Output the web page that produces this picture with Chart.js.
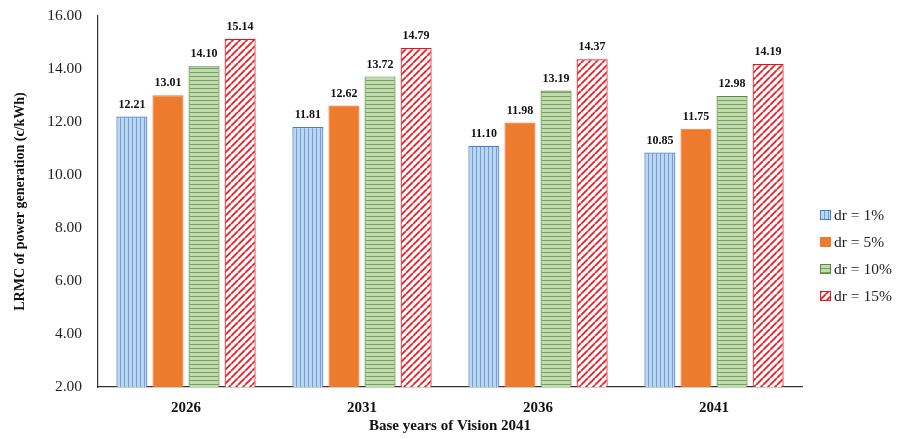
<!DOCTYPE html>
<html><head><meta charset="utf-8">
<script src="https://cdn.jsdelivr.net/npm/chart.js@4/dist/chart.umd.min.js"></script>
<style>html,body{margin:0;padding:0;background:#fff}#wrap{width:911px;height:439px}</style>
</head><body><div id="wrap"><canvas id="c" width="911" height="439"></canvas></div>
<script>
const categories = ['2026', '2031', '2036', '2041'];
const seriesNames = ['dr = 1%', 'dr = 5%', 'dr = 10%', 'dr = 15%'];
const dr1 = [12.21, 11.81, 11.10, 10.85];
const dr5 = [13.01, 12.62, 11.98, 11.75];
const dr10 = [14.10, 13.72, 13.19, 12.98];
const dr15 = [15.14, 14.79, 14.37, 14.19];
const yTicks = [2, 4, 6, 8, 10, 12, 14, 16];

function makePattern(kind) {
  const c = document.createElement('canvas');
  const x = c.getContext('2d');
  if (kind === 'v') {
    c.width = 4; c.height = 4;
    x.fillStyle = '#bcd6f0'; x.fillRect(0,0,4,4);
    x.fillStyle = '#6f9fd8'; x.fillRect(0,0,1,4);
  } else if (kind === 'h') {
    c.width = 4; c.height = 4;
    x.fillStyle = '#c0dbb0'; x.fillRect(0,0,4,4);
    x.fillStyle = '#74a556'; x.fillRect(0,0,4,1);
  } else if (kind === 'd') {
    c.width = 7; c.height = 7;
    x.fillStyle = '#ffffff'; x.fillRect(0,0,7,7);
    x.strokeStyle = '#ee1c24'; x.lineWidth = 1.8;
    x.beginPath();
    for (let k = -7; k <= 14; k += 7) { x.moveTo(k, 7); x.lineTo(k + 7, 0); }
    x.stroke();
  }
  return x.createPattern(c, 'repeat');
}
const fills = [makePattern('v'), '#ee7a2e', makePattern('h'), makePattern('d')];
const borders = ['#4a7fc1', '#ee7a2e', '#5a8a3c', '#e8141c'];
const values = [dr1, dr5, dr10, dr15];

const labelPlugin = {
  id: 'vals',
  afterDatasetsDraw(chart) {
    const ctx = chart.ctx;
    ctx.save();
    ctx.font = 'bold 12px "Liberation Serif", serif';
    ctx.fillStyle = '#111';
    ctx.textAlign = 'center';
    ctx.textBaseline = 'bottom';
    chart.data.datasets.forEach((ds, i) => {
      chart.getDatasetMeta(i).data.forEach((bar, j) => {
        ctx.fillText(ds.data[j].toFixed(2), bar.x, bar.y - 6);
      });
    });
    ctx.restore();
  }
};
const legendPlugin = {
  id: 'leg',
  afterDraw(chart) {
    const ctx = chart.ctx;
    ctx.save();
    ctx.font = '15.5px "Liberation Serif", serif';
    ctx.textBaseline = 'middle';
    const x0 = 820, y0 = 215, step = 27;
    seriesNames.forEach((n, i) => {
      const y = y0 + i * step;
      ctx.fillStyle = fills[i];
      ctx.fillRect(x0, y - 5, 11, 10);
      ctx.strokeStyle = borders[i]; ctx.lineWidth = 1;
      ctx.strokeRect(x0 + 0.5, y - 4.5, 10, 9);
      ctx.fillStyle = '#222';
      ctx.fillText(n, x0 + 14, y + 1);
    });
    ctx.restore();
  }
};

new Chart(document.getElementById('c'), {
  type: 'bar',
  data: {
    labels: categories,
    datasets: values.map((v, i) => ({
      label: seriesNames[i], data: v,
      backgroundColor: fills[i], borderColor: borders[i], borderWidth: 1.2,
      categoryPercentage: 0.82, barPercentage: 0.86
    }))
  },
  options: {
    responsive: false, animation: false,
    layout: { padding: { left: 0, right: 109, top: 16, bottom: 0 } },
    plugins: { legend: { display: false }, tooltip: { enabled: false } },
    scales: {
      y: {
        min: 2, max: 16,
        afterBuildTicks(s) { s.ticks = yTicks.map(v => ({ value: v })); },
        afterFit(s) { s.width = 98; s.paddingTop = 10; s.paddingBottom = 10; },
        grid: { display: false, drawTicks: false },
        border: { color: '#333', width: 1.2 },
        ticks: { padding: 16, color: '#222', font: { family: '"Liberation Serif", serif', size: 15.5 }, callback: v => Number(v).toFixed(2) },
        title: { display: true, text: 'LRMC of power generation (c/kWh)', color: '#111', padding: { top: 12, bottom: 0 }, font: { family: '"Liberation Serif", serif', size: 14, weight: 'bold' } }
      },
      x: {
        afterFit(s) { s.height = 52; },
        grid: { display: false, drawTicks: false },
        border: { color: '#333', width: 1.2 },
        ticks: { padding: 12, color: '#111', font: { family: '"Liberation Serif", serif', size: 15, weight: 'bold' } },
        title: { display: true, text: 'Base years of Vision 2041', color: '#111', padding: { top: 2 }, font: { family: '"Liberation Serif", serif', size: 15, weight: 'bold' } }
      }
    }
  },
  plugins: [labelPlugin, legendPlugin]
});
</script></body></html>
